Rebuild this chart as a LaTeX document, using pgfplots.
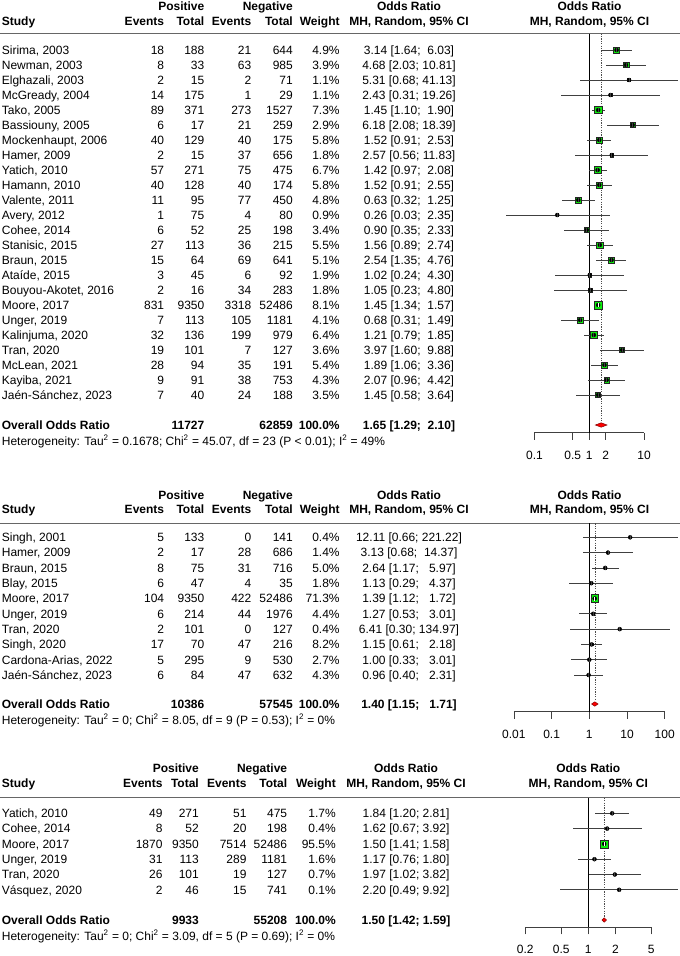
\documentclass[border=0pt]{standalone}
\usepackage{fontspec}
\setmainfont{Liberation Sans}
\usepackage{pgfplots}
\usepackage{pgfplotstable}
\pgfplotsset{compat=1.18}

\definecolor{sqgreen}{rgb}{0.05,0.93,0.05}
\definecolor{linegray}{gray}{0.25}

% i = row, est/lo/hi = odds ratio and 95% CI, w = weight (%)
\pgfplotstableread{
i est lo hi w
1 3.14 1.64 6.03 4.9
2 4.68 2.03 10.81 3.9
3 5.31 0.68 41.13 1.1
4 2.43 0.31 19.26 1.1
5 1.45 1.10 1.90 7.3
6 6.18 2.08 18.39 2.9
7 1.52 0.91 2.53 5.8
8 2.57 0.56 11.83 1.8
9 1.42 0.97 2.08 6.7
10 1.52 0.91 2.55 5.8
11 0.63 0.32 1.25 4.8
12 0.26 0.03 2.35 0.9
13 0.90 0.35 2.33 3.4
14 1.56 0.89 2.74 5.5
15 2.54 1.35 4.76 5.1
16 1.02 0.24 4.30 1.9
17 1.05 0.23 4.80 1.8
18 1.45 1.34 1.57 8.1
19 0.68 0.31 1.49 4.1
20 1.21 0.79 1.85 6.4
21 3.97 1.60 9.88 3.6
22 1.89 1.06 3.36 5.4
23 2.07 0.96 4.42 4.3
24 1.45 0.58 3.64 3.5
}\dataA
\pgfplotstableread{
i est lo hi w
1 12.11 0.66 221.22 0.4
2 3.13 0.68 14.37 1.4
3 2.64 1.17 5.97 5.0
4 1.13 0.29 4.37 1.8
5 1.39 1.12 1.72 71.3
6 1.27 0.53 3.01 4.4
7 6.41 0.30 134.97 0.4
8 1.15 0.61 2.18 8.2
9 1.00 0.33 3.01 2.7
10 0.96 0.40 2.31 4.3
}\dataB
\pgfplotstableread{
i est lo hi w
1 1.84 1.20 2.81 1.7
2 1.62 0.67 3.92 0.4
3 1.50 1.41 1.58 95.5
4 1.17 0.76 1.80 1.6
5 1.97 1.02 3.82 0.7
6 2.20 0.49 9.92 0.1
}\dataC

\pgfplotsset{
  forest/.style={
    scale only axis, width=200pt, clip=false,
    axis line style={draw=none}, ytick=\empty,
    xtick pos=left, tick align=outside, major tick length=7pt,
    tick style={black!75, line width=0.8pt},
    xticklabel style={font=\fontsize{12}{14}\selectfont, inner sep=0pt, yshift=-11pt},
  },
}

% squares, CI lines and estimate ticks: table, first row y, row step, square scale
\newcommand\studies[4]{%
  \addplot[scatter, only marks, mark=square*, mark options={line width=0.45pt},
    scatter/use mapped color={draw=black!85, fill=sqgreen},
    visualization depends on={#4*sqrt(\thisrow{w}) \as \msz},
    scatter/@pre marker code/.append style={/tikz/mark size=\msz}]
    table[x expr=log10(\thisrow{est}), y expr=-(#2+#3*(\thisrow{i}-1))] {#1};
  \addplot[only marks, mark=none, error bars/.cd, x dir=both, x explicit, error mark=none,
    error bar style={draw=linegray, line width=0.8pt}]
    table[x expr=log10(\thisrow{est}), y expr=-(#2+#3*(\thisrow{i}-1)),
      x error plus expr=log10(\thisrow{hi})-log10(\thisrow{est}),
      x error minus expr=log10(\thisrow{est})-log10(\thisrow{lo})] {#1};
  \addplot[only marks, mark=|, mark size=2pt, mark options={draw=linegray, line width=0.8pt}]
    table[x expr=log10(\thisrow{est}), y expr=-(#2+#3*(\thisrow{i}-1))] {#1};
}

\tikzset{tx/.style={inner sep=0pt, font=\fontsize{12}{14}\selectfont}}

\newcommand\cols[7]{\def\xa{#1}\def\xb{#2}\def\xc{#3}\def\xd{#4}\def\xe{#5}\def\xf{#6}\def\xg{#7}}
\newcommand\trow[8]{%
  \node[tx, anchor=base west] at (1.7pt,{-(#1+4.3)*1pt}) {#2};
  \node[tx, anchor=base east] at (\xa pt,{-(#1+4.3)*1pt}) {#3};
  \node[tx, anchor=base east] at (\xb pt,{-(#1+4.3)*1pt}) {#4};
  \node[tx, anchor=base east] at (\xc pt,{-(#1+4.3)*1pt}) {#5};
  \node[tx, anchor=base east] at (\xd pt,{-(#1+4.3)*1pt}) {#6};
  \node[tx, anchor=base east] at (\xe pt,{-(#1+4.3)*1pt}) {#7};
  \node[tx, anchor=base] at (\xf pt,{-(#1+4.3)*1pt}) {#8};}
\newcommand\hdr[3]{%
  \node[tx, anchor=base east] at (\xb pt,{-(#1+4.3)*1pt}) {\bfseries Positive};
  \node[tx, anchor=base east] at (\xd pt,{-(#1+4.3)*1pt}) {\bfseries Negative};
  \node[tx, anchor=base] at (\xf pt,{-(#1+4.3)*1pt}) {\bfseries Odds Ratio};
  \node[tx, anchor=base] at (\xg pt,{-(#1+4.3)*1pt}) {\bfseries Odds Ratio};
  \node[tx, anchor=base west] at (1.7pt,{-(#2+4.3)*1pt}) {\bfseries Study};
  \node[tx, anchor=base east] at (\xa pt,{-(#2+4.3)*1pt}) {\bfseries Events};
  \node[tx, anchor=base east] at (\xb pt,{-(#2+4.3)*1pt}) {\bfseries Total};
  \node[tx, anchor=base east] at (\xc pt,{-(#2+4.3)*1pt}) {\bfseries Events};
  \node[tx, anchor=base east] at (\xd pt,{-(#2+4.3)*1pt}) {\bfseries Total};
  \node[tx, anchor=base east] at (\xe pt,{-(#2+4.3)*1pt}) {\bfseries Weight};
  \node[tx, anchor=base] at (\xf pt,{-(#2+4.3)*1pt}) {\bfseries MH, Random, 95\% CI};
  \node[tx, anchor=base] at (\xg pt,{-(#2+4.3)*1pt}) {\bfseries MH, Random, 95\% CI};
  \draw[black!60, line width=0.8pt] (0pt,-#3pt) -- (680pt,-#3pt);}
\newcommand\orow[5]{%
  \node[tx, anchor=base west] at (1.7pt,{-(#1+4.3)*1pt}) {\bfseries Overall Odds Ratio};
  \node[tx, anchor=base east] at (\xb pt,{-(#1+4.3)*1pt}) {\bfseries #2};
  \node[tx, anchor=base east] at (\xd pt,{-(#1+4.3)*1pt}) {\bfseries #3};
  \node[tx, anchor=base east] at (\xe pt,{-(#1+4.3)*1pt}) {\bfseries 100.0\%};
  \node[tx, anchor=base] at (\xf pt,{-(#1+4.3)*1pt}) {\bfseries #4};
  \node[tx, anchor=base west] at (1.7pt,{-(#1+20.3)*1pt}) {#5};}

\begin{document}
\begin{tikzpicture}
\path[use as bounding box] (0pt,0pt) rectangle (680pt,-956pt);

% ---------------- panel 1 ----------------
\cols{164.3}{204.5}{251.5}{293}{339.8}{409}{589.5}
\hdr{6}{20.7}{33.5}
\trow{50}{Sirima, 2003}{18}{188}{21}{644}{4.9\%}{3.14 [1.64;~~6.03]}
\trow{65}{Newman, 2003}{8}{33}{63}{985}{3.9\%}{4.68 [2.03; 10.81]}
\trow{80}{Elghazali, 2003}{2}{15}{2}{71}{1.1\%}{5.31 [0.68; 41.13]}
\trow{95}{McGready, 2004}{14}{175}{1}{29}{1.1\%}{2.43 [0.31; 19.26]}
\trow{110}{Tako, 2005}{89}{371}{273}{1527}{7.3\%}{1.45 [1.10;~~1.90]}
\trow{125}{Bassiouny, 2005}{6}{17}{21}{259}{2.9\%}{6.18 [2.08; 18.39]}
\trow{140}{Mockenhaupt, 2006}{40}{129}{40}{175}{5.8\%}{1.52 [0.91;~~2.53]}
\trow{155}{Hamer, 2009}{2}{15}{37}{656}{1.8\%}{2.57 [0.56; 11.83]}
\trow{170}{Yatich, 2010}{57}{271}{75}{475}{6.7\%}{1.42 [0.97;~~2.08]}
\trow{185}{Hamann, 2010}{40}{128}{40}{174}{5.8\%}{1.52 [0.91;~~2.55]}
\trow{200}{Valente, 2011}{11}{95}{77}{450}{4.8\%}{0.63 [0.32;~~1.25]}
\trow{215}{Avery, 2012}{1}{75}{4}{80}{0.9\%}{0.26 [0.03;~~2.35]}
\trow{230}{Cohee, 2014}{6}{52}{25}{198}{3.4\%}{0.90 [0.35;~~2.33]}
\trow{245}{Stanisic, 2015}{27}{113}{36}{215}{5.5\%}{1.56 [0.89;~~2.74]}
\trow{260}{Braun, 2015}{15}{64}{69}{641}{5.1\%}{2.54 [1.35;~~4.76]}
\trow{275}{Ataíde, 2015}{3}{45}{6}{92}{1.9\%}{1.02 [0.24;~~4.30]}
\trow{290}{Bouyou-Akotet, 2016}{2}{16}{34}{283}{1.8\%}{1.05 [0.23;~~4.80]}
\trow{305}{Moore, 2017}{831}{9350}{3318}{52486}{8.1\%}{1.45 [1.34;~~1.57]}
\trow{320}{Unger, 2019}{7}{113}{105}{1181}{4.1\%}{0.68 [0.31;~~1.49]}
\trow{335}{Kalinjuma, 2020}{32}{136}{199}{979}{6.4\%}{1.21 [0.79;~~1.85]}
\trow{350}{Tran, 2020}{19}{101}{7}{127}{3.6\%}{3.97 [1.60;~~9.88]}
\trow{365}{McLean, 2021}{28}{94}{35}{191}{5.4\%}{1.89 [1.06;~~3.36]}
\trow{380}{Kayiba, 2021}{9}{91}{38}{753}{4.3\%}{2.07 [0.96;~~4.42]}
\trow{395}{Jaén-Sánchez, 2023}{7}{40}{24}{188}{3.5\%}{1.45 [0.58;~~3.64]}
\orow{425}{11727}{62859}{1.65 [1.29;~~2.10]}{Heterogeneity: Tau\textsuperscript{2} = 0.1678; Chi\textsuperscript{2} = 45.07, df = 23 (P < 0.01); I\textsuperscript{2} = 49\%}

\begin{axis}[forest, at={(480pt,-432.7pt)}, anchor=south west, height=399.2pt,
  xmin=-1.9927, xmax=1.6536, ymin=-432.7, ymax=-33.5,
  xtick={-1,-0.30103,0,0.30103,1}, xticklabels={0.1,0.5,1,2,10}]
\addplot[black!75, line width=0.8pt] coordinates {(-1,-432.7) (1,-432.7)};
\addplot[black, line width=0.8pt] coordinates {(0,-33.5) (0,-432.7)};
\addplot[black!70, line width=0.6pt, dash pattern=on 1.2pt off 1.2pt]
  table[x expr=log10(\thisrow{v}), y=y] {
v y
1.65 -33.5
1.65 -421
};
\studies{\dataA}{50}{15}{1.353}
\addplot[white, line width=0.8pt] table[x expr=log10(\thisrow{v}), y=y] {
v y
1.34 -305
1.57 -305
};
\addplot[only marks, mark=|, mark size=2pt, mark options={draw=white, line width=0.8pt}]
  table[x expr=log10(\thisrow{v}), y=y] {
v y
1.45 -305
};
\addplot[fill=red, draw=red!50!black, line width=0.5pt]
  table[x expr=log10(\thisrow{v}), y=y] {
v y
1.29 -425
1.65 -422.8
2.10 -425
1.65 -427.2
} -- cycle;
\end{axis}

% ---------------- panel 2 ----------------
\hdr{495}{509.3}{523.3}
\trow{537.3}{Singh, 2001}{5}{133}{0}{141}{0.4\%}{12.11 [0.66; 221.22]}
\trow{552.6}{Hamer, 2009}{2}{17}{28}{686}{1.4\%}{3.13 [0.68;~~14.37]}
\trow{567.9}{Braun, 2015}{8}{75}{31}{716}{5.0\%}{2.64 [1.17;~~~5.97]}
\trow{583.2}{Blay, 2015}{6}{47}{4}{35}{1.8\%}{1.13 [0.29;~~~4.37]}
\trow{598.5}{Moore, 2017}{104}{9350}{422}{52486}{71.3\%}{1.39 [1.12;~~~1.72]}
\trow{613.8}{Unger, 2019}{6}{214}{44}{1976}{4.4\%}{1.27 [0.53;~~~3.01]}
\trow{629.1}{Tran, 2020}{2}{101}{0}{127}{0.4\%}{6.41 [0.30; 134.97]}
\trow{644.4}{Singh, 2020}{17}{70}{47}{216}{8.2\%}{1.15 [0.61;~~~2.18]}
\trow{659.7}{Cardona-Arias, 2022}{5}{295}{9}{530}{2.7\%}{1.00 [0.33;~~~3.01]}
\trow{675}{Jaén-Sánchez, 2023}{6}{84}{47}{632}{4.3\%}{0.96 [0.40;~~~2.31]}
\orow{704}{10386}{57545}{1.40 [1.15;~~~1.71]}{Heterogeneity: Tau\textsuperscript{2} = 0; Chi\textsuperscript{2} = 8.05, df = 9 (P = 0.53); I\textsuperscript{2} = 0\%}

\begin{axis}[forest, at={(480pt,-711.7pt)}, anchor=south west, height=188.4pt,
  xmin=-2.8992, xmax=2.4058, ymin=-711.7, ymax=-523.3,
  xtick={-2,-1,0,1,2}, xticklabels={0.01,0.1,1,10,100}]
\addplot[black!75, line width=0.8pt] coordinates {(-2,-711.7) (2,-711.7)};
\addplot[black, line width=0.8pt] coordinates {(0,-523.3) (0,-711.7)};
\addplot[black!70, line width=0.6pt, dash pattern=on 1.2pt off 1.2pt]
  table[x expr=log10(\thisrow{v}), y=y] {
v y
1.40 -523.3
1.40 -700.5
};
\studies{\dataB}{537.3}{15.3}{0.456}
\addplot[white, line width=0.8pt] table[x expr=log10(\thisrow{v}), y=y] {
v y
1.12 -598.5
1.72 -598.5
};
\addplot[only marks, mark=|, mark size=2pt, mark options={draw=white, line width=0.8pt}]
  table[x expr=log10(\thisrow{v}), y=y] {
v y
1.39 -598.5
};
\addplot[fill=red, draw=red!50!black, line width=0.5pt]
  table[x expr=log10(\thisrow{v}), y=y] {
v y
1.15 -704
1.40 -701.8
1.71 -704
1.40 -706.2
} -- cycle;
\end{axis}

% ---------------- panel 3 ----------------
\cols{162.7}{199}{246.7}{287.3}{336}{406}{588.3}
\hdr{768.3}{783.3}{797.7}
\trow{813.3}{Yatich, 2010}{49}{271}{51}{475}{1.7\%}{1.84 [1.20; 2.81]}
\trow{828.6}{Cohee, 2014}{8}{52}{20}{198}{0.4\%}{1.62 [0.67; 3.92]}
\trow{843.9}{Moore, 2017}{1870}{9350}{7514}{52486}{95.5\%}{1.50 [1.41; 1.58]}
\trow{859.2}{Unger, 2019}{31}{113}{289}{1181}{1.6\%}{1.17 [0.76; 1.80]}
\trow{874.5}{Tran, 2020}{26}{101}{19}{127}{0.7\%}{1.97 [1.02; 3.82]}
\trow{889.8}{Vásquez, 2020}{2}{46}{15}{741}{0.1\%}{2.20 [0.49; 9.92]}
\orow{920}{9933}{55208}{1.50 [1.42; 1.59]}{Heterogeneity: Tau\textsuperscript{2} = 0; Chi\textsuperscript{2} = 3.09, df = 5 (P = 0.69); I\textsuperscript{2} = 0\%}

\begin{axis}[forest, at={(480pt,-927.3pt)}, anchor=south west, height=129.6pt,
  xmin=-1.2020, xmax=1.0178, ymin=-927.3, ymax=-797.7,
  xtick={-0.69897,-0.30103,0,0.30103,0.69897}, xticklabels={0.2,0.5,1,2,5}]
\addplot[black!75, line width=0.8pt] coordinates {(-0.69897,-927.3) (0.69897,-927.3)};
\addplot[black, line width=0.8pt] coordinates {(0,-797.7) (0,-927.3)};
\addplot[black!70, line width=0.6pt, dash pattern=on 1.2pt off 1.2pt]
  table[x expr=log10(\thisrow{v}), y=y] {
v y
1.50 -797.7
1.50 -916.5
};
\studies{\dataC}{813.3}{15.3}{0.409}
\addplot[white, line width=0.8pt] table[x expr=log10(\thisrow{v}), y=y] {
v y
1.41 -843.9
1.58 -843.9
};
\addplot[only marks, mark=|, mark size=2pt, mark options={draw=white, line width=0.8pt}]
  table[x expr=log10(\thisrow{v}), y=y] {
v y
1.50 -843.9
};
\addplot[fill=red, draw=red!50!black, line width=0.5pt]
  table[x expr=log10(\thisrow{v}), y=y] {
v y
1.42 -920
1.50 -917.8
1.59 -920
1.50 -922.2
} -- cycle;
\end{axis}
\end{tikzpicture}
\end{document}
